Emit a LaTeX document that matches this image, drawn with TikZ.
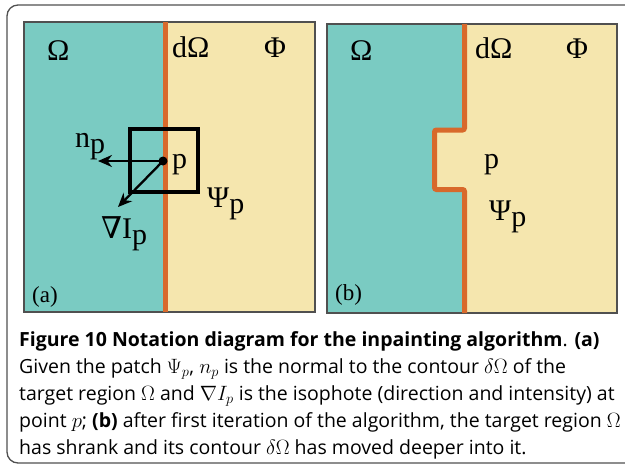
\documentclass[tikz,border=0pt]{standalone}
\usepackage{fontspec}
\setmainfont{Liberation Serif}
\setsansfont{Open Sans}
\newfontfamily\symfont{DejaVu Serif}
\usetikzlibrary{arrows.meta,positioning}
\definecolor{regteal}{HTML}{7ACBC2}
\definecolor{regsand}{HTML}{F5E6AE}
\definecolor{contour}{HTML}{D8692B}
\definecolor{framegray}{HTML}{505050}
\tikzset{
  lbl/.style={font=\fontsize{30}{30}\selectfont, inner sep=0pt, anchor=base west},
  tagtxt/.style={font=\fontsize{23}{23}\selectfont, inner sep=0pt, anchor=base west},
  captxt/.style={font=\sffamily\fontsize{19.5}{27}\selectfont, inner sep=0pt, anchor=base west},
  rim/.style={line width=5pt, draw=contour},
  panel/.style={draw=framegray, line width=1.2pt},
  patchbox/.style={draw, rectangle, line width=3.5pt, minimum width=68pt, minimum height=63pt, inner sep=0pt},
  dotnode/.style={circle, fill, minimum size=9pt, inner sep=0pt},
  arr/.style={-{Stealth[length=14pt,width=12pt]}, line width=2.3pt},
}
\newcommand{\lsub}[1]{\raisebox{-6pt}{#1}}

\begin{document}
\begin{tikzpicture}[x=1pt,y=-1pt]
\useasboundingbox (0,0) rectangle (625,467);
\clip (0,0) rectangle (625,467);

% outer frame
\draw[framegray, line width=1.3pt, rounded corners=11pt] (7,5) rectangle (680,463);

% panel (a)
\fill[regteal] (24,22) rectangle (165,312);
\fill[regsand] (165,22) rectangle (315,312);
\draw[panel] (24,22) rectangle (315,312);
\draw[rim] (165.5,22) -- (165.5,312);

\node[patchbox] (patchA) at (164,160.5) {};
\node[dotnode] (pA) at (163,161) {};
\coordinate (npEnd) at (98,161);
\coordinate (gradEnd) at (118,207);
\draw[arr] (pA.center) -- (npEnd);
\draw[arr] (pA.center) -- (gradEnd);

\node[lbl] (omegaA) at (47,60) {Ω};
\node[lbl] (dOmegaA) at (172,57) {dΩ};
\node[lbl] (phiA) at (264,57) {Φ};
\node[lbl] (npLbl) at (75,147) {n\lsub{p}};
\node[lbl] (pLblA) at (172,168) {p};
\node[lbl] (psiA) at (207,207) {Ψ\lsub{p}};
\node[lbl] (gradLbl) at (101,238) {{\symfont ∇}I\lsub{p}};
\node[tagtxt] (tagA) at (32,302) {(a)};

% panel (b)
\fill[regteal] (327,24) rectangle (617,313);
\fill[regsand] (464,24) -- (464,130) -- (434.5,130) -- (434.5,189.5) -- (464,189.5)
  -- (464,313) -- (617,313) -- (617,24) -- cycle;
\draw[panel] (327,24) rectangle (617,313);
\draw[rim, rounded corners=2pt] (464.5,24) -- (464.5,130) -- (434.5,130)
  -- (434.5,189.5) -- (464.5,189.5) -- (464.5,313);

\node[lbl] (omegaB) at (350,60) {Ω};
\node[lbl] (dOmegaB) at (475,58) {dΩ};
\node[lbl] (phiB) at (566,58) {Φ};
\node[lbl] (pLblB) at (484,168) {p};
\node[lbl] (psiB) at (489,220) {Ψ\lsub{p}};
\node[tagtxt] (tagB) at (335,300) {(b)};

% caption, one node per line
\node[captxt] (cap1) at (19,346)
  {\textbf{Figure 10 Notation diagram for the inpainting algorithm}. \textbf{(a)}};
\node[captxt] (cap2) at (19,373)
  {Given the patch $\Psi_p$, $n_p$ is the normal to the contour $\delta\Omega$ of the};
\node[captxt] (cap3) at (19,400)
  {target region $\Omega$ and $\nabla I_p$ is the isophote (direction and intensity) at};
\node[captxt] (cap4) at (19,427)
  {point $p$; \textbf{(b)} after first iteration of the algorithm, the target region $\Omega$};
\node[captxt] (cap5) at (19,454)
  {has shrank and its contour $\delta\Omega$ has moved deeper into it.};
\end{tikzpicture}
\end{document}
